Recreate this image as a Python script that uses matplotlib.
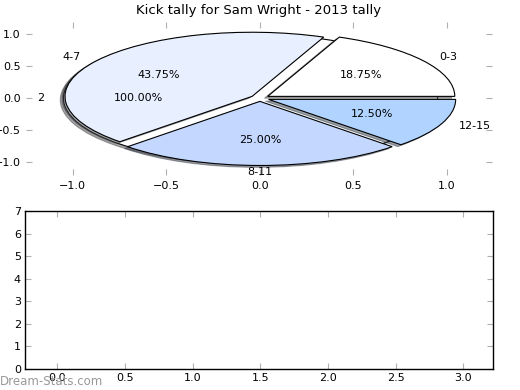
import matplotlib
matplotlib.use("Agg")
import matplotlib.pyplot as plt
from matplotlib.patches import Shadow

# kick tally bins for the season
bins = ["0-3", "4-7", "8-11", "12-15"]
kicks = [3, 7, 4, 2]
bin_colors = ["#ffffff", "#e8f0ff", "#c4d8ff", "#b0d4ff"]

# the stray single-slice pie drawn underneath
total_label = ["2"]
total_value = [1]

bar_ticks = [0.0, 0.5, 1.0, 1.5, 2.0, 2.5, 3.0]

plt.rcParams["font.size"] = 8
plt.rcParams["font.family"] = "DejaVu Sans"

fig = plt.figure(figsize=(5.2, 3.9), dpi=100)
ax = fig.add_axes([0.05, 0.551, 0.896, 0.393])
ax2 = fig.add_axes([0.048, 0.054, 0.9, 0.405])

w1, t1, p1 = ax.pie(total_value, labels=total_label, colors=["white"], autopct="%.2f%%",
                    explode=[0.05], frame=True,
                    wedgeprops=dict(edgecolor="black", linewidth=0.8, zorder=0.5))
w2, t2, p2 = ax.pie(kicks, labels=bins, colors=bin_colors, autopct="%.2f%%",
                    explode=[0.05] * len(kicks), frame=True,
                    wedgeprops=dict(edgecolor="black", linewidth=0.8))
# smaller shadows than the built-in ones
for w in list(w1) + list(w2):
    ax.add_patch(Shadow(w, -0.012, -0.02))
# labels sitting straight below the centre are centred
for t in t2:
    if abs(t.get_position()[0]) < 1e-3:
        t.set_ha("center")

ax.set_aspect("auto")
ax.set_xlim(-1.25, 1.24)
ax.set_ylim(-1.2, 1.19)
ax.set_xticks([-1.0, -0.5, 0.0, 0.5, 1.0])
ax.set_yticks([-1.0, -0.5, 0.0, 0.5, 1.0])
for s in ax.spines.values():
    s.set_visible(False)
ax.tick_params(direction="in", length=4, color="#b0b0b0", top=True, right=True,
               labelsize=8, pad=4)
ax.set_title("Kick tally for Sam Wright - 2013 tally", fontsize=9.5, pad=6)

ax2.set_xlim(-0.24, 3.22)
ax2.set_ylim(0, 7)
ax2.set_xticks(bar_ticks)
ax2.set_yticks(range(0, 8))
ax2.tick_params(direction="in", length=4, color="#b0b0b0", top=True, right=True,
                labelsize=8, pad=3)
for s in ax2.spines.values():
    s.set_linewidth(1.0)

fig.text(0.0, 0.012, "Dream-Stats.com", color="#999999", fontsize=8.5)

fig.savefig("out.png", dpi=100)
